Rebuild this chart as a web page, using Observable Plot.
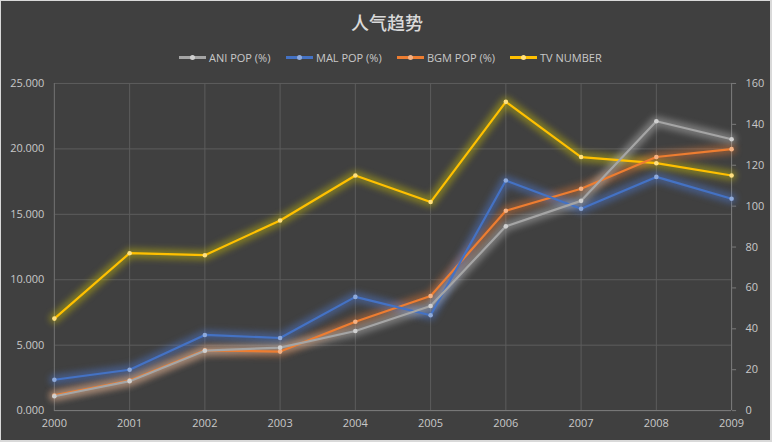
<!DOCTYPE html>
<html>
<head>
<meta charset="utf-8">
<script src="https://cdn.jsdelivr.net/npm/d3@7"></script>
<script src="https://cdn.jsdelivr.net/npm/@observablehq/plot@0.6"></script>
<style>
  html, body { margin: 0; padding: 0; background: #404040; }
  #frame { position: relative; width: 772px; height: 442px; box-sizing: border-box;
    background: #404040; border-top: 1px solid #d9d9d9; border-left: 1px solid #d9d9d9;
    border-right: 2px solid #d9d9d9; border-bottom: 2px solid #d9d9d9; overflow: hidden; }
  #title { position: absolute; left: 0; top: 8px; width: 772px; text-align: center;
    font-family: "Noto Sans CJK SC", sans-serif; font-size: 18px; font-weight: 500; color: #d9d9d9; line-height: 26px; }
  #legend { position: absolute; left: 0; top: 48px; width: 772px; height: 16px;
    font-family: "Open Sans", "Noto Sans", sans-serif; font-size: 11px; color: #c8c8c8; }
  .item { position: absolute; top: 0; display: flex; align-items: center; height: 16px; white-space: nowrap; }
  .sw { position: relative; width: 27px; height: 3px; margin-right: 3px; }
  .sw i { position: absolute; left: 11px; top: -1px; width: 5px; height: 5px; border-radius: 50%; }
  #chart { position: absolute; left: -1px; top: 69px; }
</style>
</head>
<body>
<div id="frame">
  <div id="title">人气趋势</div>
  <div id="legend"></div>
  <div id="chart"></div>
</div>
<script>
const years = [2000, 2001, 2002, 2003, 2004, 2005, 2006, 2007, 2008, 2009];
const aniPop = [1.10, 2.25, 4.58, 4.81, 6.08, 8.00, 14.08, 16.03, 22.11, 20.74];
const malPop = [2.36, 3.12, 5.78, 5.55, 8.69, 7.29, 17.58, 15.43, 17.86, 16.19];
const bgmPop = [1.16, 2.30, 4.61, 4.51, 6.79, 8.76, 15.27, 16.95, 19.38, 19.98];
const tvNumber = [45, 77, 76, 93, 115, 102, 151, 124, 121, 115];
const leftTicks = [0, 5, 10, 15, 20, 25];
const rightTicks = [0, 20, 40, 60, 80, 100, 120, 140, 160];
const seriesNames = ["ANI POP (%)", "MAL POP (%)", "BGM POP (%)", "TV NUMBER"];
const colors = ["#a5a5a5", "#4472c4", "#ed7d31", "#ffc000"];
const dotColors = ["#d0d0d0", "#8eaadb", "#f4b183", "#ffe07f"];
const glowColors = ["#c8c8c8", "#4f7fe0", "#ed7d31", "#d4c800"];

const ratio = 25 / 160;
const seriesValues = [aniPop, malPop, bgmPop, tvNumber.map(v => v * ratio)];
const data = [];
seriesValues.forEach((vals, s) => vals.forEach((v, i) => data.push({series: seriesNames[s], year: years[i], value: v})));

// legend
const legendX = [178, 285, 396, 509];
const legend = document.getElementById("legend");
seriesNames.forEach((n, i) => {
  const d = document.createElement("div");
  d.className = "item";
  d.style.left = legendX[i] + "px";
  d.innerHTML = `<span class="sw" style="background:${colors[i]}"><i style="background:${dotColors[i]}"></i></span><span>${n}</span>`;
  legend.appendChild(d);
});

const order = [3, 2, 1, 0];
const marks = [
  Plot.gridX(years, {x: d => d, stroke: "#5c5c5c", strokeOpacity: 1}),
  Plot.gridY(leftTicks, {y: d => d, stroke: "#5c5c5c", strokeOpacity: 1}),
  Plot.ruleY([0], {stroke: "#7a7a7a"}),
  Plot.ruleX([2000], {stroke: "#6e6e6e"}),
  Plot.ruleX([2009], {stroke: "#7a7a7a"}),
  Plot.axisY(leftTicks, {anchor: "left", tickSize: 0, tickPadding: 10, tickFormat: d3.format(".3f"),
    fill: "#c8c8c8", fontSize: 11, label: null}),
  Plot.axisY(rightTicks.map(v => v * ratio), {anchor: "right", tickSize: 4, tickPadding: 10,
    tickFormat: d => String(Math.round(d / ratio)), stroke: "#7a7a7a", fill: "#c8c8c8", fontSize: 11, label: null, textAnchor: "start"}),
  Plot.axisX(years, {tickSize: 0, tickPadding: 9, tickFormat: d3.format("d"), fill: "#c8c8c8", fontSize: 11, label: null})
];
order.forEach(s => {
  const sub = data.filter(d => d.series === seriesNames[s]);
  marks.push(Plot.line(sub, {x: "year", y: "value", stroke: glowColors[s], strokeWidth: 10, strokeOpacity: 0.42, imageFilter: "blur(3px)"}));
});
order.forEach(s => {
  const sub = data.filter(d => d.series === seriesNames[s]);
  marks.push(Plot.line(sub, {x: "year", y: "value", stroke: colors[s], strokeWidth: 2.2}));
  marks.push(Plot.dot(sub, {x: "year", y: "value", r: 2.3, fill: dotColors[s], stroke: "none"}));
});

const chart = Plot.plot({
  width: 772,
  height: 370,
  marginTop: 13,
  marginBottom: 29,
  marginLeft: 54,
  marginRight: 39,
  style: {background: "transparent", color: "#c8c8c8", fontFamily: "'Open Sans', 'Noto Sans', sans-serif", fontSize: "11px", overflow: "visible"},
  x: {domain: [2000, 2009], axis: null},
  y: {domain: [0, 25], axis: null},
  marks
});
document.getElementById("chart").appendChild(chart);
</script>
</body>
</html>
